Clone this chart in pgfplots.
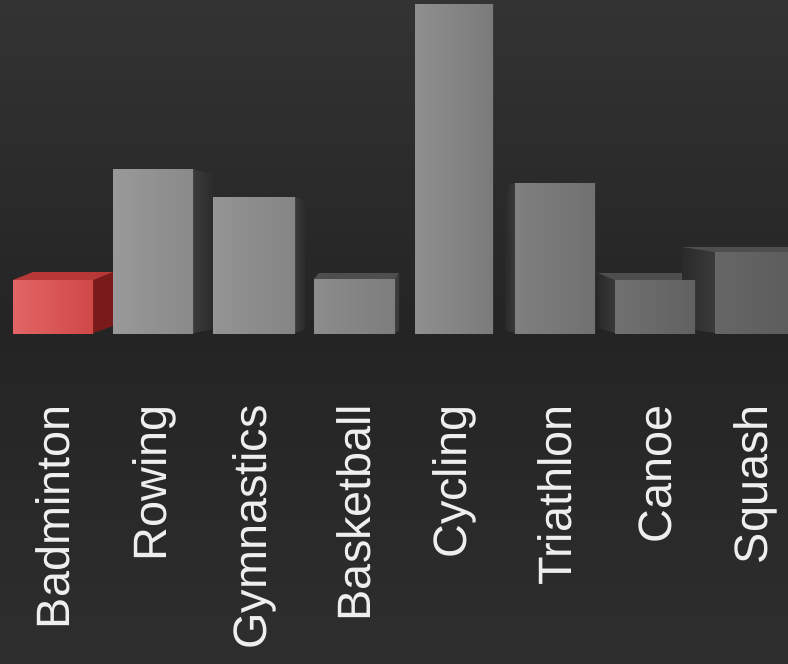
\documentclass[border=0pt]{standalone}
\usepackage{pgfplots}
\pgfplotsset{compat=1.18}
\usepackage{fontspec}
\setmainfont{Liberation Sans}
\definecolor{bgtop}{HTML}{333333}
\definecolor{bgmid}{HTML}{242424}
\definecolor{bgbot}{HTML}{2E2E2E}
\definecolor{lbl}{HTML}{EEEEEE}
\definecolor{sidegray}{HTML}{2A2A2A}
\definecolor{sidegrayb}{HTML}{3A3A3A}
\definecolor{topgray}{HTML}{4E4E4E}
\definecolor{redL}{HTML}{E26565}
\definecolor{redR}{HTML}{D04848}
\definecolor{redside}{HTML}{7A1A1A}
\definecolor{redtop}{HTML}{B83838}
\begin{document}
\begin{tikzpicture}
\fill[top color=bgtop, bottom color=bgmid] (0,0) rectangle (788bp,333bp);
\fill[top color=bgmid, bottom color=bgbot] (0,-331bp) rectangle (788bp,0);
\begin{axis}[
  at={(0,0)}, anchor=south west,
  scale only axis, width=788bp, height=333bp,
  xmin=0, xmax=788, ymin=0, ymax=333,
  axis line style={draw=none},
  axis x line*=bottom, axis y line=none,
  clip=true,
  xtick={53,154,254,354,454,555,655,755},
  xticklabels={Badminton,Rowing,Gymnastics,Basketball,Cycling,Triathlon,Canoe,Squash},
  ytick=\empty,
  major tick length=0pt,
  xticklabel shift=72bp,
  xticklabel style={rotate=90, anchor=east, inner sep=0pt, text=lbl,
     font=\fontsize{47}{47}\selectfont},
]
% side and top faces (depth), drawn behind the fronts
\addplot[fill=redside, draw=none] coordinates {(93,0) (113,7) (113,61) (93,53)} --cycle;
\addplot[fill=redtop, draw=none] coordinates {(13,53) (33,61) (113,61) (93,53)} --cycle;
\addplot[left color=sidegrayb, right color=sidegray, draw=none] coordinates {(193,0) (215,4) (215,158) (193,164)} --cycle;
\addplot[left color=sidegrayb, right color=sidegray, draw=none] coordinates {(295,0) (305,3) (305,133) (295,136)} --cycle;
\addplot[fill=sidegrayb, draw=none] coordinates {(395,0) (399,2) (399,60) (395,54)} --cycle;
\addplot[fill=topgray, draw=none] coordinates {(314,54) (319,60) (399,60) (395,54)} --cycle;
\addplot[left color=sidegray, right color=sidegrayb, draw=none] coordinates {(505,3) (515,0) (515,150) (505,147)} --cycle;
\addplot[left color=sidegray, right color=sidegrayb, draw=none] coordinates {(598,5) (615,0) (615,53) (598,60)} --cycle;
\addplot[fill=topgray, draw=none] coordinates {(598,60) (615,53) (695,53) (687,60)} --cycle;
\addplot[left color=sidegray, right color=sidegrayb, draw=none] coordinates {(682,5) (715,0) (715,81) (682,86)} --cycle;
\addplot[fill=topgray, draw=none] coordinates {(682,86) (715,81) (790,81) (790,86)} --cycle;
% front faces
\addplot[ybar, bar shift=0pt, bar width=80, draw=none, left color=redL, right color=redR] coordinates {(53,53)};
\addplot[ybar, bar shift=0pt, bar width=80, draw=none, left color=black!40, right color=black!46] coordinates {(153,164)};
\addplot[ybar, bar shift=0pt, bar width=82, draw=none, left color=black!42, right color=black!48] coordinates {(254,136)};
\addplot[ybar, bar shift=0pt, bar width=81, draw=none, left color=black!45, right color=black!51] coordinates {(354.5,54)};
\addplot[ybar, bar shift=0pt, bar width=78, draw=none, left color=black!44, right color=black!52] coordinates {(454,328)};
\addplot[ybar, bar shift=0pt, bar width=80, draw=none, left color=black!50, right color=black!56] coordinates {(555,150)};
\addplot[ybar, bar shift=0pt, bar width=80, draw=none, left color=black!56, right color=black!62] coordinates {(655,53)};
\addplot[ybar, bar shift=0pt, bar width=80, draw=none, left color=black!60, right color=black!64] coordinates {(755,81)};
\end{axis}
\end{tikzpicture}
\end{document}
